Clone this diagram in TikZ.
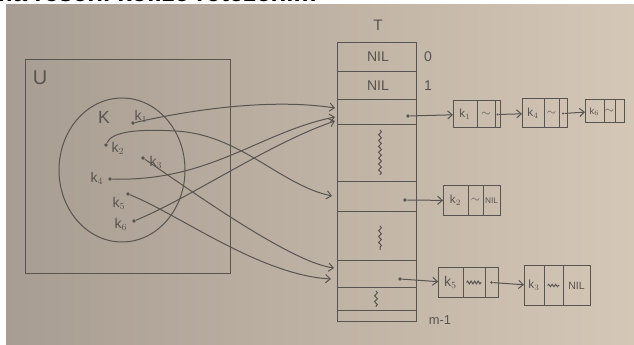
\documentclass[tikz,border=0pt]{standalone}
\usepackage{fontspec}
\setmainfont{Liberation Sans}
\newfontfamily\capfont{Liberation Sans}
\usetikzlibrary{positioning, arrows.meta, shapes.geometric, decorations.pathmorphing}

\definecolor{pencil}{RGB}{88,84,80}
\definecolor{paperL}{RGB}{168,157,146}
\definecolor{paperR}{RGB}{212,199,182}

\tikzset{
  hand/.style={text=pencil, inner sep=0pt, font=\fontsize{#1}{#1}\selectfont},
  dot/.style={circle, fill=pencil, inner sep=0pt, minimum size=3pt},
  cell/.style 2 args={draw=pencil, inner sep=0pt, outer sep=0pt,
    minimum width=#1, minimum height=#2, text=pencil, font=\fontsize{10}{10}\selectfont},
  squig/.style={decorate, decoration={snake, amplitude=1.2pt, segment length=5pt}},
}

\begin{document}
\begin{tikzpicture}[x=0.03cm, y=-0.03cm, ->, >={Straight Barb[length=4pt, width=7pt]},
    draw=pencil, line width=0.85pt]
    \useasboundingbox (0,0) rectangle (634,345);
    \fill[white] (0,0) rectangle (634,345);
    \shade[left color=paperL, right color=paperR] (6,5) rectangle (634,345);
    \node[anchor=base east, inner sep=0pt, font=\capfont\bfseries\fontsize{22}{26}\selectfont]
        (cap) at (317,2) {Schéma řešení kolize řetězením};

    % universe and the set of keys
    \draw[-] (25,60) rectangle (230,273);
    \node[hand=17] (U) at (40,78) {U};
    \node[draw=pencil, ellipse, minimum width=3.78cm, minimum height=4.32cm] (K) at (122,170) {};
    \node[hand=15] (lK) at (104,117) {K};

    \node[dot] (k1) at (133,123) {};
    \node[dot] (k2) at (106,145) {};
    \node[dot] (k3) at (143,158) {};
    \node[dot] (k4) at (110,179) {};
    \node[dot] (k5) at (128,194) {};
    \node[dot] (k6) at (134,221) {};
    \node[hand=12] (lk1) at (141,116) {k$_1$};
    \node[hand=12] (lk2) at (118,148) {k$_2$};
    \node[hand=12] (lk3) at (156,162) {k$_3$};
    \node[hand=12] (lk4) at (97,178) {k$_4$};
    \node[hand=12] (lk5) at (119,203) {k$_5$};
    \node[hand=12] (lk6) at (121,224) {k$_6$};

    % the table T
    \node[draw=pencil, anchor=north west, minimum width=2.37cm, minimum height=8.37cm,
        inner sep=0pt] (tab) at (337,42) {};
    \foreach \y in {72,100,125,182,212,260,287,310}
        \draw[-] (337,\y) -- (416,\y);
    \node[hand=13] (lT) at (378,25) {T};
    \node[hand=12] (nil0) at (378,57) {NIL};
    \node[hand=12] (nil1) at (378,86) {NIL};
    \node[hand=12] (i0) at (428,57) {0};
    \node[hand=12] (i1) at (428,86) {1};
    \node[hand=11] (im) at (440,320) {m-1};
    \draw[-, squig] (380,130) -- (380,175);
    \draw[-, squig] (380,226) -- (380,250);
    \draw[-, squig] (376,291) -- (376,307);

    \node[dot] (s2) at (408,116) {};
    \node[dot] (sa) at (405,200) {};
    \node[dot] (sb) at (400,279) {};

    % where the keys land
    \coordinate (e1) at (335,108);
    \coordinate (e4) at (335,117);
    \coordinate (e6) at (335,121);
    \coordinate (e2) at (332,196);
    \coordinate (e3) at (334,268);
    \coordinate (e5) at (331,279);

    \draw (k1) .. controls (190,110) and (270,98) .. (e1);
    \draw (k2) .. controls (112,131) and (140,129) .. (175,131)
               .. controls (240,134) and (280,185) .. (e2);
    \draw (k4) .. controls (210,182) and (260,132) .. (e4);
    \draw (k6) .. controls (190,198) and (270,143) .. (e6);
    \draw (k3) .. controls (190,190) and (290,262) .. (e3);
    \draw (k5) .. controls (180,215) and (260,275) .. (e5);

    % chains
    \node[cell={0.72cm}{0.81cm}, anchor=west] (c1a) at (453,114.5) {k$_1$};
    \node[cell={0.54cm}{0.81cm}, right=0pt of c1a] (c1b) {$\sim$};
    \node[cell={0.15cm}{0.81cm}, right=0pt of c1b] (c1c) {};

    \node[cell={0.66cm}{0.87cm}, anchor=west] (c4a) at (522,113.5) {k$_4$};
    \node[cell={0.45cm}{0.87cm}, right=0pt of c4a] (c4b) {$\sim$};
    \node[cell={0.24cm}{0.87cm}, right=0pt of c4b] (c4c) {};

    \node[cell={0.57cm}{0.69cm}, anchor=west, font=\fontsize{8}{8}\selectfont] (c6a) at (585,111.5) {k$_6$};
    \node[cell={0.33cm}{0.69cm}, right=0pt of c6a] (c6b) {$\sim$};
    \node[cell={0.27cm}{0.69cm}, right=0pt of c6b] (c6c) {};

    \node[cell={0.75cm}{0.87cm}, anchor=west] (c2a) at (443,200.5) {k$_2$};
    \node[cell={0.45cm}{0.87cm}, right=0pt of c2a] (c2b) {$\sim$};
    \node[cell={0.51cm}{0.87cm}, right=0pt of c2b, font=\fontsize{7}{7}\selectfont] (c2c) {NIL};

    \node[cell={0.75cm}{0.87cm}, anchor=west, font=\fontsize{12}{12}\selectfont] (c5a) at (438,282.5) {k$_5$};
    \node[cell={0.66cm}{0.87cm}, right=0pt of c5a] (c5b) {};
    \node[cell={0.39cm}{0.87cm}, right=0pt of c5b] (c5c) {};

    \node[cell={0.60cm}{1.17cm}, anchor=west] (c3a) at (524,285.5) {k$_3$};
    \node[cell={0.57cm}{1.17cm}, right=0pt of c3a] (c3b) {};
    \node[cell={0.81cm}{1.17cm}, right=0pt of c3b, font=\fontsize{9}{9}\selectfont] (c3c) {NIL};

    \draw[-, squig, segment length=3pt] ([xshift=3pt]c5b.west) -- ([xshift=-3pt]c5b.east);
    \draw[-, squig, decoration={segment length=3pt, amplitude=1pt}] ([xshift=3pt]c3b.west) -- ([xshift=-3pt]c3b.east);

    \node[dot, minimum size=2pt] (d1) at (c1c.center) {};
    \node[dot, minimum size=2pt] (d4) at (c4c.center) {};
    \node[dot, minimum size=2.5pt] (d5) at (c5c.center) {};

    \draw (s2) -- (c1a);
    \draw (sa) -- (c2a);
    \draw (sb) -- (c5a);
    \draw (d1) -- (c4a);
    \draw (d4) -- (c6a);
    \draw (d5) -- (c3a);
\end{tikzpicture}
\end{document}
